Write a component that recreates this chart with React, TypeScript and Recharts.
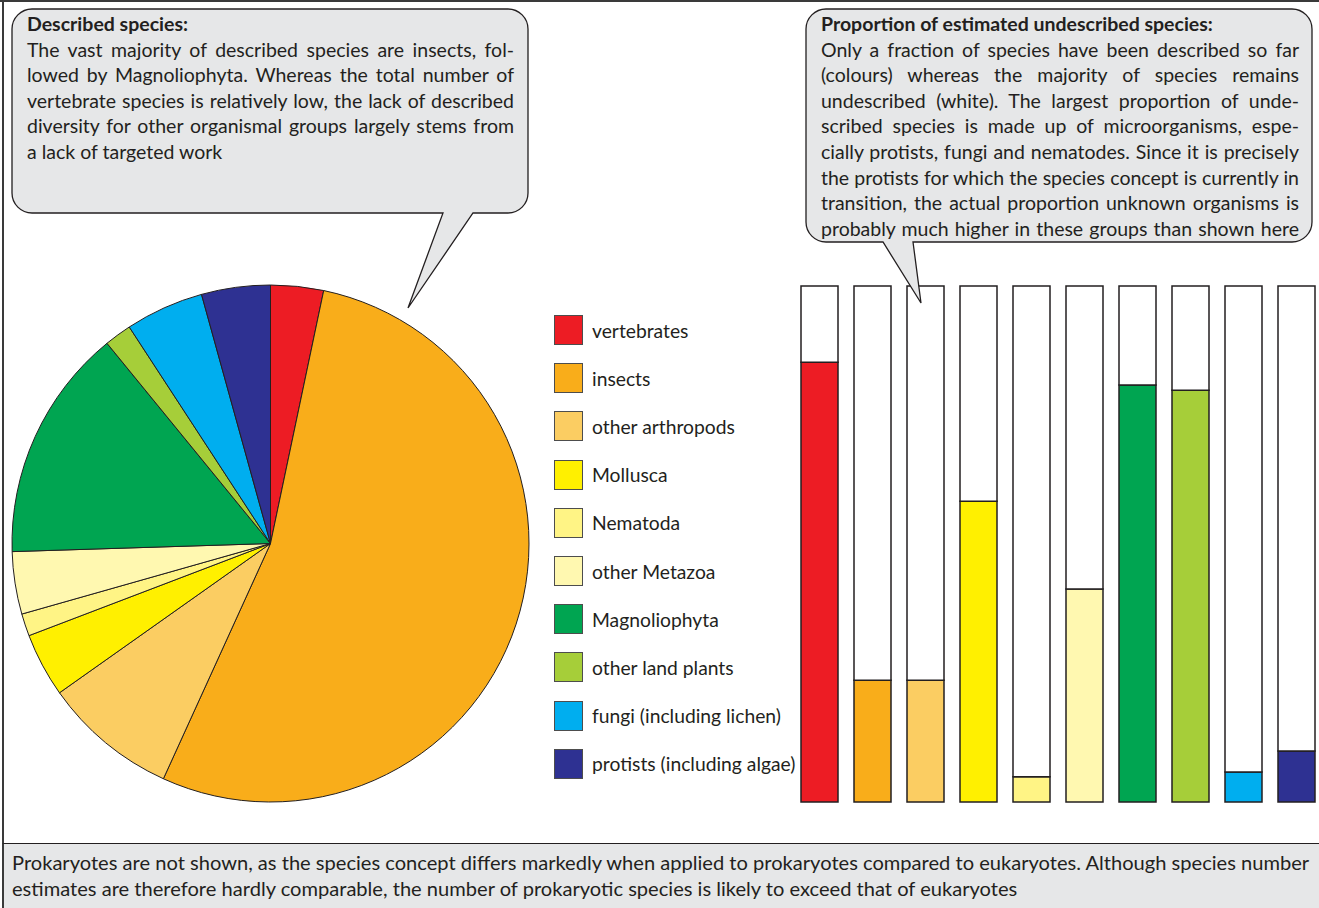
import React from "react";
import { PieChart, Pie, Cell, BarChart, Bar, XAxis, YAxis } from "recharts";

const categories = [
  "vertebrates",
  "insects",
  "other arthropods",
  "Mollusca",
  "Nematoda",
  "other Metazoa",
  "Magnoliophyta",
  "other land plants",
  "fungi (including lichen)",
  "protists (including algae)",
];

const colors = [
  "#ed1c24",
  "#f9ad1a",
  "#fbcd62",
  "#fff000",
  "#fff485",
  "#fff8b0",
  "#00a551",
  "#a6ce39",
  "#00aeef",
  "#2e3192",
];

// share of all described species (%)
const describedShare = [3.3, 53.5, 8.4, 4.0, 1.4, 3.9, 14.6, 1.7, 4.9, 4.3];

// proportion of estimated species that are described (%)
const describedProportion = [85.2, 23.6, 23.6, 58.3, 4.9, 41.3, 80.8, 79.8, 5.8, 9.9];

const leftTitle = "Described species:";
const leftLines = [
  "The vast majority of described species are insects, fol-",
  "lowed by Magnoliophyta. Whereas the total number of",
  "vertebrate species is relatively low, the lack of described",
  "diversity for other organismal groups largely stems from",
  "a lack of targeted work",
];

const rightTitle = "Proportion of estimated undescribed species:";
const rightLines = [
  "Only a fraction of species have been described so far",
  "(colours) whereas the majority of species remains",
  "undescribed (white). The largest proportion of unde-",
  "scribed species is made up of microorganisms, espe-",
  "cially protists, fungi and nematodes. Since it is precisely",
  "the protists for which the species concept is currently in",
  "transition, the actual proportion unknown organisms is",
  "probably much higher in these groups than shown here",
];

const footerLines = [
  "Prokaryotes are not shown, as the species concept differs markedly when applied to prokaryotes compared to eukaryotes. Although species number",
  "estimates are therefore hardly comparable, the number of prokaryotic species is likely to exceed that of eukaryotes",
];

const FONT = "Lato, 'Noto Sans', sans-serif";
const INK = "#231f20";
const TEXT_SIZE = 19.5;

const pieData = categories.map((name, i) => ({ name, value: describedShare[i] }));
const barData = categories.map((name, i) => ({
  name,
  described: describedProportion[i],
  undescribed: 100 - describedProportion[i],
}));

function bubblePath(x0: number, y0: number, x1: number, y1: number, r: number, ta: number, tb: number, tx: number, ty: number) {
  return [
    `M ${x0 + r} ${y0}`,
    `L ${x1 - r} ${y0}`,
    `A ${r} ${r} 0 0 1 ${x1} ${y0 + r}`,
    `L ${x1} ${y1 - r}`,
    `A ${r} ${r} 0 0 1 ${x1 - r} ${y1}`,
    `L ${tb} ${y1}`,
    `L ${tx} ${ty}`,
    `L ${ta} ${y1}`,
    `L ${x0 + r} ${y1}`,
    `A ${r} ${r} 0 0 1 ${x0} ${y1 - r}`,
    `L ${x0} ${y0 + r}`,
    `A ${r} ${r} 0 0 1 ${x0 + r} ${y0}`,
    "Z",
  ].join(" ");
}

function TextBlock({ left, top, width, title, lines, justifyLast }: { left: number; top: number; width: number; title: string; lines: string[]; justifyLast: boolean }) {
  return (
    <div style={{ position: "absolute", left, top, width, fontFamily: FONT, fontSize: TEXT_SIZE, lineHeight: "25.6px", color: INK, zIndex: 3 }}>
      <div style={{ fontWeight: 700, height: 25.6 }}>{title}</div>
      {lines.map((l, i) => {
        const last = i === lines.length - 1;
        const just = !last || justifyLast;
        return (
          <div key={i} style={{ textAlign: just ? "justify" : "left", textAlignLast: just ? "justify" : "left", height: 25.6 } as React.CSSProperties}>
            {l}
          </div>
        );
      })}
    </div>
  );
}

export default function App() {
  return (
    <div style={{ position: "absolute", left: 0, top: 0, width: 1319, height: 908, overflow: "hidden", background: "#fff", fontFamily: FONT }}>
      {/* outer frame */}
      <div style={{ position: "absolute", left: 0, top: 0, width: 1319, height: 2, background: "#3a3a3a" }} />
      <div style={{ position: "absolute", left: 2, top: 0, width: 2, height: 908, background: "#3a3a3a" }} />

      {/* pie */}
      <div style={{ position: "absolute", left: 0, top: 273, zIndex: 1 }}>
        <PieChart width={541} height={541} margin={{ top: 0, right: 0, bottom: 0, left: 0 }}>
          <Pie
            data={pieData}
            dataKey="value"
            nameKey="name"
            cx={270.5}
            cy={270.5}
            outerRadius={258.5}
            innerRadius={0}
            startAngle={90}
            endAngle={-270}
            stroke={INK}
            strokeWidth={1}
            isAnimationActive={false}
            label={false}
            labelLine={false}
          >
            {pieData.map((d, i) => (
              <Cell key={d.name} fill={colors[i]} />
            ))}
          </Pie>
        </PieChart>
      </div>

      {/* legend */}
      <div style={{ position: "absolute", left: 554, top: 315, zIndex: 1 }}>
        {categories.map((c, i) => (
          <div key={c} style={{ position: "absolute", left: 0, top: i * 48.2, height: 30, width: 260, display: "flex", alignItems: "center" }}>
            <div style={{ width: 27, height: 28, background: colors[i], border: "1px solid #4d4d4d", flex: "none" }} />
            <div style={{ marginLeft: 9, fontSize: 19.3, color: INK, whiteSpace: "nowrap" }}>{c}</div>
          </div>
        ))}
      </div>

      {/* bars */}
      <div style={{ position: "absolute", left: 793, top: 284, zIndex: 1 }}>
        <BarChart width={530} height={520} data={barData} margin={{ top: 2, right: 0, bottom: 2, left: 0 }} barCategoryGap={0}>
          <XAxis dataKey="name" hide />
          <YAxis hide domain={[0, 100]} />
          <Bar dataKey="described" stackId="a" barSize={37} stroke={INK} strokeWidth={1.5} isAnimationActive={false}>
            {barData.map((d, i) => (
              <Cell key={d.name} fill={colors[i]} />
            ))}
          </Bar>
          <Bar dataKey="undescribed" stackId="a" barSize={37} fill="#ffffff" stroke={INK} strokeWidth={1.5} isAnimationActive={false} />
        </BarChart>
      </div>

      {/* speech bubbles */}
      <svg width={1319} height={908} style={{ position: "absolute", left: 0, top: 0, zIndex: 2, pointerEvents: "none" }}>
        <path d={bubblePath(12, 9, 528, 213, 20, 443, 473, 408, 308)} fill="#e6e7e8" stroke={INK} strokeWidth={1.3} strokeLinejoin="miter" />
        <path d={bubblePath(806, 9, 1312, 242, 20, 883, 913, 921, 303)} fill="#e6e7e8" stroke={INK} strokeWidth={1.3} strokeLinejoin="miter" />
      </svg>
      <TextBlock left={27} top={11} width={487} title={leftTitle} lines={leftLines} justifyLast={false} />
      <TextBlock left={821} top={11} width={478} title={rightTitle} lines={rightLines} justifyLast={true} />

      {/* footer */}
      <div style={{ position: "absolute", left: 2, top: 843, width: 1317, height: 65, background: "#e6e7e8", borderTop: "1.5px solid #231f20", borderLeft: "2px solid #3a3a3a", boxSizing: "border-box", zIndex: 2 }}>
        {footerLines.map((l, i) => (
          <div key={i} style={{ position: "absolute", left: 8, top: 5 + i * 26, fontSize: 20.1, lineHeight: "26px", color: INK, whiteSpace: "nowrap" }}>
            {l}
          </div>
        ))}
      </div>
    </div>
  );
}
